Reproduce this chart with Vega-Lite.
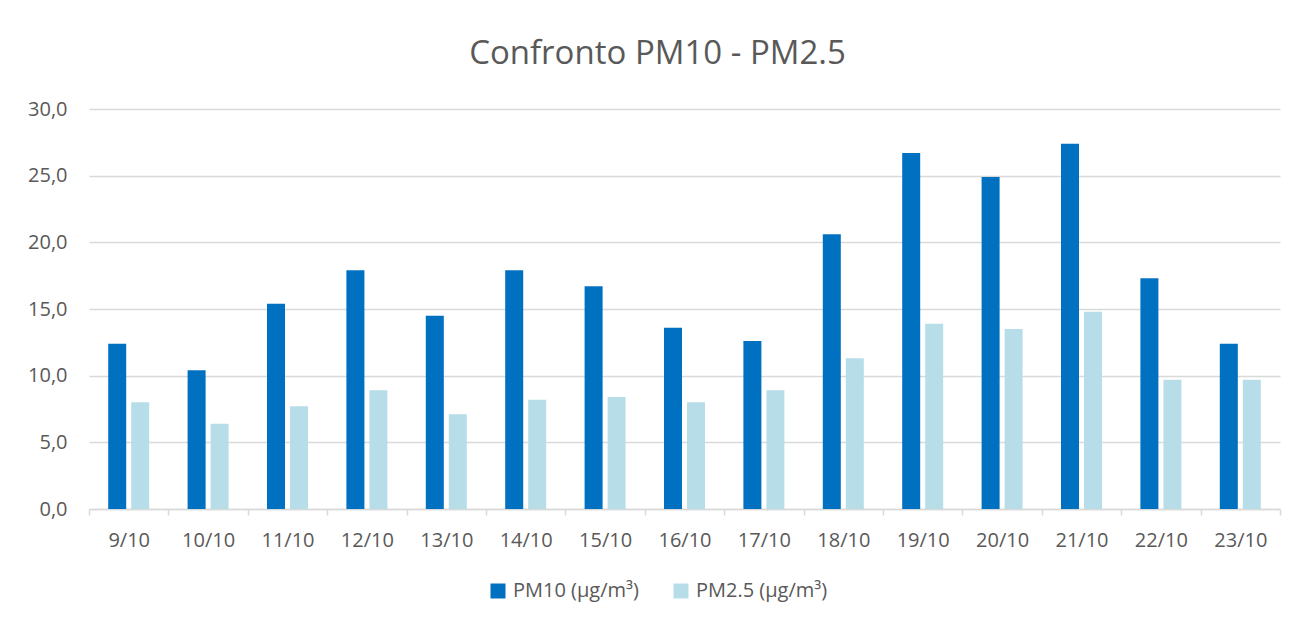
{
  "$schema": "https://vega.github.io/schema/vega-lite/v6.json",
  "width": 1191,
  "height": 400,
  "autosize": {"type": "none"},
  "padding": {"left": 89, "top": 109, "right": 27, "bottom": 116},
  "background": "white",
  "title": {
    "text": "Confronto PM10 - PM2.5",
    "font": "Open Sans",
    "fontSize": 33,
    "fontWeight": "normal",
    "color": "#595959",
    "anchor": "middle",
    "dx": -27,
    "offset": 28
  },
  "data": {
    "values": [
      {"giorno": "9/10", "serie": "PM10 (µg/m³)", "valore": 12.4},
      {"giorno": "9/10", "serie": "PM2.5 (µg/m³)", "valore": 8.0},
      {"giorno": "10/10", "serie": "PM10 (µg/m³)", "valore": 10.4},
      {"giorno": "10/10", "serie": "PM2.5 (µg/m³)", "valore": 6.4},
      {"giorno": "11/10", "serie": "PM10 (µg/m³)", "valore": 15.4},
      {"giorno": "11/10", "serie": "PM2.5 (µg/m³)", "valore": 7.7},
      {"giorno": "12/10", "serie": "PM10 (µg/m³)", "valore": 17.9},
      {"giorno": "12/10", "serie": "PM2.5 (µg/m³)", "valore": 8.9},
      {"giorno": "13/10", "serie": "PM10 (µg/m³)", "valore": 14.5},
      {"giorno": "13/10", "serie": "PM2.5 (µg/m³)", "valore": 7.1},
      {"giorno": "14/10", "serie": "PM10 (µg/m³)", "valore": 17.9},
      {"giorno": "14/10", "serie": "PM2.5 (µg/m³)", "valore": 8.2},
      {"giorno": "15/10", "serie": "PM10 (µg/m³)", "valore": 16.7},
      {"giorno": "15/10", "serie": "PM2.5 (µg/m³)", "valore": 8.4},
      {"giorno": "16/10", "serie": "PM10 (µg/m³)", "valore": 13.6},
      {"giorno": "16/10", "serie": "PM2.5 (µg/m³)", "valore": 8.0},
      {"giorno": "17/10", "serie": "PM10 (µg/m³)", "valore": 12.6},
      {"giorno": "17/10", "serie": "PM2.5 (µg/m³)", "valore": 8.9},
      {"giorno": "18/10", "serie": "PM10 (µg/m³)", "valore": 20.6},
      {"giorno": "18/10", "serie": "PM2.5 (µg/m³)", "valore": 11.3},
      {"giorno": "19/10", "serie": "PM10 (µg/m³)", "valore": 26.7},
      {"giorno": "19/10", "serie": "PM2.5 (µg/m³)", "valore": 13.9},
      {"giorno": "20/10", "serie": "PM10 (µg/m³)", "valore": 24.9},
      {"giorno": "20/10", "serie": "PM2.5 (µg/m³)", "valore": 13.5},
      {"giorno": "21/10", "serie": "PM10 (µg/m³)", "valore": 27.4},
      {"giorno": "21/10", "serie": "PM2.5 (µg/m³)", "valore": 14.8},
      {"giorno": "22/10", "serie": "PM10 (µg/m³)", "valore": 17.3},
      {"giorno": "22/10", "serie": "PM2.5 (µg/m³)", "valore": 9.7},
      {"giorno": "23/10", "serie": "PM10 (µg/m³)", "valore": 12.4},
      {"giorno": "23/10", "serie": "PM2.5 (µg/m³)", "valore": 9.7}
    ]
  },
  "mark": {"type": "bar"},
  "encoding": {
    "x": {
      "field": "giorno",
      "type": "nominal",
      "sort": ["9/10", "10/10", "11/10", "12/10", "13/10", "14/10", "15/10", "16/10", "17/10", "18/10", "19/10", "20/10", "21/10", "22/10", "23/10"],
      "scale": {"paddingInner": 0, "paddingOuter": 0},
      "axis": {
        "title": null,
        "labelAngle": 0,
        "labelFont": "Open Sans",
        "labelFontSize": 20,
        "labelColor": "#595959",
        "labelPadding": 15,
        "domainColor": "#D9D9D9",
        "domainWidth": 1.5,
        "tickColor": "#D9D9D9",
        "tickWidth": 1.5,
        "tickSize": 6,
        "tickBand": "extent",
        "grid": false
      }
    },
    "xOffset": {
      "field": "serie",
      "type": "nominal",
      "sort": ["PM10 (µg/m³)", "PM2.5 (µg/m³)"],
      "scale": {"paddingInner": 0.217, "paddingOuter": 0.835}
    },
    "y": {
      "field": "valore",
      "type": "quantitative",
      "scale": {"domain": [0, 30], "nice": false},
      "axis": {
        "title": null,
        "values": [0, 5, 10, 15, 20, 25, 30],
        "labelExpr": "replace(format(datum.value, '.1f'), '.', ',')",
        "labelFont": "Open Sans",
        "labelFontSize": 20,
        "labelColor": "#595959",
        "labelPadding": 22,
        "domain": false,
        "ticks": false,
        "grid": true,
        "gridColor": "#D9D9D9",
        "gridWidth": 1.3
      }
    },
    "color": {
      "field": "serie",
      "type": "nominal",
      "scale": {"domain": ["PM10 (µg/m³)", "PM2.5 (µg/m³)"], "range": ["#0070C0", "#B7DEE8"]},
      "legend": {
        "title": null,
        "orient": "none",
        "legendX": 399,
        "legendY": 472,
        "direction": "horizontal",
        "symbolType": "square",
        "symbolSize": 225,
        "symbolStrokeWidth": 0,
        "labelFont": "Open Sans",
        "labelFontSize": 20,
        "labelColor": "#595959",
        "labelOffset": 5,
        "columnPadding": 32
      }
    }
  },
  "config": {"view": {"stroke": null}}
}
